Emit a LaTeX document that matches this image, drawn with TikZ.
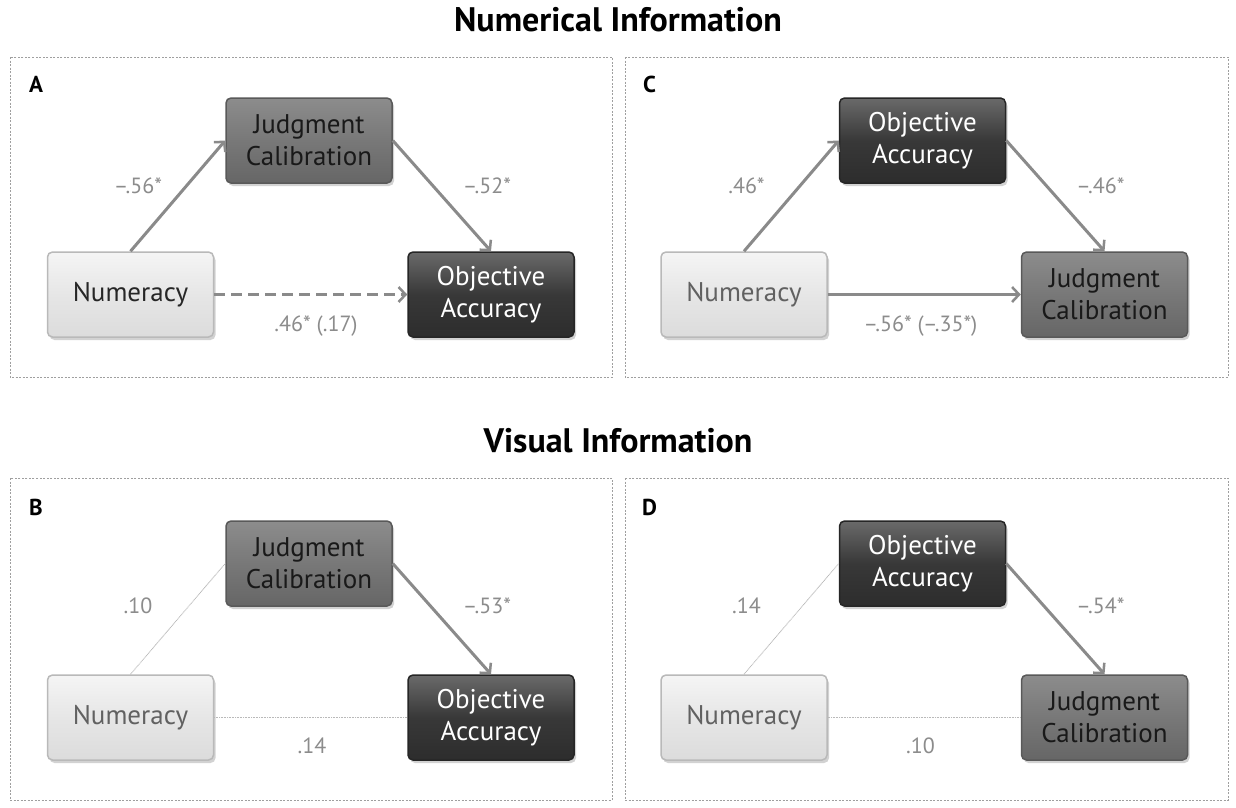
\documentclass[tikz,border=0pt]{standalone}
\usepackage{fontspec}
\setmainfont{PT Sans}
\usetikzlibrary{arrows.meta,shadows}
\definecolor{edgegray}{HTML}{8A8A8A}
\definecolor{labgray}{HTML}{8C8C8C}
\definecolor{numfill}{HTML}{E6E6E6}
\definecolor{jcfill}{HTML}{787878}
\definecolor{oafill}{HTML}{383838}
\tikzset{
  panelframe/.style={draw=gray!75, line width=0.8pt, dash pattern=on 2pt off 1.5pt},
  vbox/.style={rounded corners=5pt, minimum width=166pt, minimum height=85pt, align=center,
     font=\fontsize{27}{32}\selectfont, line width=1.5pt, inner sep=2pt,
     drop shadow={opacity=0.35, shadow xshift=2pt, shadow yshift=-3pt}},
  numbox/.style={vbox, draw=gray!55, top color=white!92!gray, bottom color=numfill!90!gray, middle color=numfill, text=#1},
  numbox/.default={black!85},
  jcbox/.style={vbox, draw=black!65, top color=jcfill!85!white, bottom color=jcfill!85!black, middle color=jcfill, text=black!90},
  oabox/.style={vbox, draw=black!85, top color=oafill!75!white, bottom color=oafill!80!black, middle color=oafill, text=white},
  sig/.style={draw=edgegray, line width=3pt, -{Straight Barb[length=7pt,width=15pt,line width=2.5pt]}},
  sigdash/.style={sig, dash pattern=on 11pt off 6pt},
  nonsig/.style={draw=gray!55, line width=0.8pt, dash pattern=on 1pt off 0.6pt},
  coef/.style={text=labgray, font=\fontsize{22}{26}\selectfont},
  plabel/.style={font=\bfseries\fontsize{23}{26}\selectfont, text=black},
  ptitle/.style={font=\bfseries\fontsize{34}{38}\selectfont, text=black}
}
\begin{document}
\begin{tikzpicture}[x=1pt,y=-1pt]
\useasboundingbox[fill=white] (0,0) rectangle (1236,807);
% titles
\node[ptitle] (t1) at (618,20) {Numerical Information};
\node[ptitle] (t2) at (618,441) {Visual Information};
% frames
\draw[panelframe] (10,57) rectangle (612,377);
\draw[panelframe] (625,57) rectangle (1228,377);
\draw[panelframe] (10,478) rectangle (612,800);
\draw[panelframe] (625,478) rectangle (1228,800);
% Panel A
\node[plabel] (la) at (36,84) {A};
\node[jcbox] (a-jc) at (309,140.5) {Judgment\\Calibration};
\node[numbox] (a-num) at (130.5,294.5) {Numeracy};
\node[oabox] (a-oa) at (491,294.5) {Objective\\Accuracy};
\draw[sig] (a-num.north) -- (a-jc.west);
\draw[sig] (a-jc.east) -- (a-oa.north);
\draw[sigdash] (a-num.east) -- (a-oa.west);
\node[coef] (a-l1) at (138,186) {–.56*};
\node[coef] (a-l2) at (487,186) {–.52*};
\node[coef] (a-l3) at (316,326) {.46* (.17)};
% Panel C
\begin{scope}[shift={(613.5,0)}]
\node[plabel] (lc) at (36,84) {C};
\node[oabox] (c-oa) at (309,140.5) {Objective\\Accuracy};
\node[numbox=black!62] (c-num) at (130.5,294.5) {Numeracy};
\node[jcbox] (c-jc) at (491,294.5) {Judgment\\Calibration};
\draw[sig] (c-num.north) -- (c-oa.west);
\draw[sig] (c-oa.east) -- (c-jc.north);
\draw[sig] (c-num.east) -- (c-jc.west);
\node[coef] (c-l1) at (133,186) {.46*};
\node[coef] (c-l2) at (487,186) {–.46*};
\node[coef] (c-l3) at (307,326) {–.56* (–.35*)};
\end{scope}
% Panel B
\begin{scope}[shift={(0,423)}]
\node[plabel] (lb) at (36,84) {B};
\node[jcbox] (b-jc) at (309,140.5) {Judgment\\Calibration};
\node[numbox=black!62] (b-num) at (130.5,294.5) {Numeracy};
\node[oabox] (b-oa) at (491,294.5) {Objective\\Accuracy};
\draw[nonsig] (b-num.north) -- (b-jc.west);
\draw[sig] (b-jc.east) -- (b-oa.north);
\draw[nonsig] (b-num.east) -- (b-oa.west);
\node[coef] (b-l1) at (138,183) {.10};
\node[coef] (b-l2) at (487,183) {–.53*};
\node[coef] (b-l3) at (312,323) {.14};
\end{scope}
% Panel D
\begin{scope}[shift={(613.5,423)}]
\node[plabel] (ld) at (36,84) {D};
\node[oabox] (d-oa) at (309,140.5) {Objective\\Accuracy};
\node[numbox=black!62] (d-num) at (130.5,294.5) {Numeracy};
\node[jcbox] (d-jc) at (491,294.5) {Judgment\\Calibration};
\draw[nonsig] (d-num.north) -- (d-oa.west);
\draw[sig] (d-oa.east) -- (d-jc.north);
\draw[nonsig] (d-num.east) -- (d-jc.west);
\node[coef] (d-l1) at (133,183) {.14};
\node[coef] (d-l2) at (487,183) {–.54*};
\node[coef] (d-l3) at (307,323) {.10};
\end{scope}
\end{tikzpicture}
\end{document}
